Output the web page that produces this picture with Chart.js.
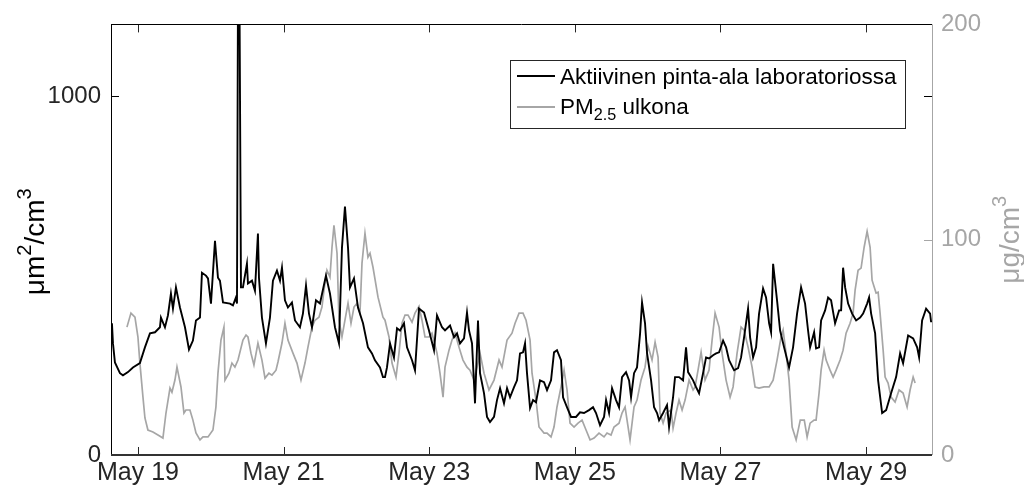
<!DOCTYPE html>
<html>
<head>
<meta charset="utf-8">
<script src="https://cdn.jsdelivr.net/npm/chart.js@4/dist/chart.umd.min.js"></script>
<style>
  html, body { margin: 0; padding: 0; background: #fff; }
  canvas { display: block; }
</style>
</head>
<body>
<canvas id="chart" width="1024" height="490"></canvas>
<script>
// --- Data (time in days of May) ---
const areaTime = [
  18.643, 18.657, 18.684, 18.753, 18.794, 18.863, 18.931, 19.027, 19.096, 19.165,
  19.234, 19.302, 19.316, 19.371, 19.412, 19.453, 19.481, 19.522, 19.577, 19.646,
  19.701, 19.755, 19.797, 19.852, 19.879, 19.934, 19.962, 20.003, 20.058, 20.099,
  20.126, 20.168, 20.264, 20.305, 20.346, 20.360, 20.374, 20.394, 20.415, 20.442,
  20.497, 20.511, 20.566, 20.607, 20.648, 20.662, 20.703, 20.758, 20.813, 20.854,
  20.909, 20.951, 20.978, 21.019, 21.060, 21.115, 21.157, 21.225, 21.266, 21.308,
  21.349, 21.390, 21.445, 21.500, 21.582, 21.637, 21.706, 21.761, 21.802, 21.843,
  21.885, 21.912, 21.967, 22.022, 22.091, 22.159, 22.214, 22.255, 22.324, 22.365,
  22.393, 22.420, 22.462, 22.516, 22.558, 22.599, 22.654, 22.695, 22.764, 22.805,
  22.860, 22.929, 22.997, 23.066, 23.107, 23.176, 23.217, 23.286, 23.341, 23.382,
  23.423, 23.478, 23.519, 23.547, 23.588, 23.629, 23.670, 23.698, 23.753, 23.794,
  23.835, 23.890, 23.931, 23.973, 24.027, 24.069, 24.110, 24.165, 24.206, 24.247,
  24.288, 24.316, 24.343, 24.385, 24.426, 24.467, 24.522, 24.577, 24.618, 24.673,
  24.714, 24.755, 24.810, 24.838, 24.893, 24.948, 25.016, 25.071, 25.126, 25.195,
  25.250, 25.291, 25.346, 25.401, 25.429, 25.470, 25.511, 25.566, 25.607, 25.648,
  25.703, 25.745, 25.772, 25.813, 25.854, 25.896, 25.923, 25.964, 25.992, 26.047,
  26.088, 26.129, 26.157, 26.212, 26.266, 26.294, 26.349, 26.376, 26.431, 26.486,
  26.527, 26.555, 26.624, 26.665, 26.706, 26.761, 26.802, 26.843, 26.898, 26.940,
  26.981, 27.036, 27.077, 27.118, 27.187, 27.242, 27.283, 27.324, 27.379, 27.407,
  27.448, 27.489, 27.530, 27.585, 27.626, 27.668, 27.695, 27.723, 27.777, 27.819,
  27.874, 27.942, 27.997, 28.052, 28.107, 28.162, 28.203, 28.231, 28.286, 28.313,
  28.354, 28.382, 28.437, 28.478, 28.519, 28.574, 28.629, 28.657, 28.684, 28.712,
  28.753, 28.808, 28.863, 28.918, 28.959, 29.014, 29.041, 29.069, 29.124, 29.165,
  29.220, 29.275, 29.343, 29.412, 29.467, 29.508, 29.577, 29.646, 29.701, 29.728,
  29.769, 29.824, 29.879, 29.893
];
const areaValues = [
  367, 311, 258, 228, 222, 231, 244, 256, 300, 339,
  342, 356, 383, 356, 389, 450, 408, 467, 411, 356,
  294, 319, 375, 383, 508, 500, 492, 422, 597, 494,
  486, 425, 422, 417, 439, 422, 1300, 1300, 467, 467,
  533, 478, 486, 458, 617, 494, 383, 311, 383, 486,
  514, 486, 522, 431, 411, 425, 375, 356, 394, 472,
  394, 356, 431, 422, 500, 450, 356, 311, 578, 692,
  578, 467, 492, 411, 367, 300, 283, 264, 244, 217,
  217, 244, 311, 272, 353, 347, 367, 300, 264, 236,
  408, 397, 347, 292, 389, 356, 347, 361, 328, 339,
  311, 325, 397, 347, 311, 144, 375, 228, 172, 106,
  92, 106, 153, 186, 144, 186, 161, 189, 208, 283,
  286, 311, 228, 131, 153, 147, 208, 203, 181, 208,
  286, 292, 264, 161, 133, 106, 106, 119, 117, 125,
  133, 117, 83, 106, 153, 117, 186, 153, 133, 217,
  231, 208, 161, 228, 244, 339, 425, 367, 283, 208,
  133, 117, 97, 117, 139, 78, 161, 217, 217, 208,
  300, 231, 208, 189, 172, 228, 272, 269, 278, 283,
  286, 319, 300, 264, 236, 242, 272, 328, 408, 328,
  272, 300, 394, 464, 439, 367, 342, 533, 431, 347,
  300, 244, 300, 394, 467, 422, 347, 300, 342, 297,
  300, 375, 403, 439, 431, 367, 403, 403, 522, 467,
  422, 394, 375, 383, 394, 422, 439, 394, 339, 208,
  117, 125, 172, 217, 283, 256, 333, 325, 300, 272,
  375, 408, 394, 370
];

const pmTime = [
  18.849, 18.904, 18.959, 19.000, 19.027, 19.069, 19.096, 19.137, 19.206, 19.275,
  19.343, 19.385, 19.440, 19.467, 19.508, 19.536, 19.591, 19.632, 19.659, 19.714,
  19.755, 19.797, 19.852, 19.893, 19.962, 20.030, 20.071, 20.099, 20.140, 20.181,
  20.195, 20.250, 20.291, 20.332, 20.374, 20.442, 20.484, 20.511, 20.552, 20.593,
  20.648, 20.703, 20.745, 20.799, 20.841, 20.896, 20.923, 20.978, 21.019, 21.060,
  21.129, 21.184, 21.239, 21.294, 21.335, 21.390, 21.431, 21.486, 21.527, 21.555,
  21.596, 21.637, 21.665, 21.692, 21.734, 21.761, 21.802, 21.843, 21.885, 21.926,
  21.967, 22.008, 22.049, 22.077, 22.118, 22.159, 22.187, 22.228, 22.297, 22.365,
  22.393, 22.448, 22.489, 22.544, 22.585, 22.626, 22.668, 22.709, 22.764, 22.805,
  22.860, 22.901, 22.942, 22.997, 23.038, 23.107, 23.148, 23.190, 23.217, 23.272,
  23.313, 23.354, 23.409, 23.464, 23.519, 23.560, 23.615, 23.657, 23.698, 23.753,
  23.821, 23.890, 23.959, 24.000, 24.069, 24.137, 24.179, 24.234, 24.288, 24.330,
  24.385, 24.412, 24.467, 24.508, 24.577, 24.618, 24.673, 24.714, 24.755, 24.810,
  24.852, 24.893, 24.934, 24.989, 25.044, 25.099, 25.154, 25.209, 25.264, 25.332,
  25.401, 25.442, 25.497, 25.538, 25.607, 25.648, 25.690, 25.717, 25.758, 25.813,
  25.854, 25.909, 25.964, 26.005, 26.060, 26.102, 26.143, 26.170, 26.212, 26.253,
  26.321, 26.349, 26.390, 26.431, 26.473, 26.514, 26.569, 26.624, 26.651, 26.692,
  26.734, 26.788, 26.843, 26.885, 26.926, 26.981, 27.022, 27.077, 27.132, 27.173,
  27.228, 27.283, 27.324, 27.379, 27.434, 27.475, 27.530, 27.599, 27.668, 27.723,
  27.777, 27.832, 27.860, 27.901, 27.942, 27.984, 28.039, 28.096, 28.151, 28.190,
  28.231, 28.286, 28.313, 28.354, 28.382, 28.423, 28.451, 28.505, 28.547, 28.588,
  28.643, 28.684, 28.725, 28.780, 28.821, 28.849, 28.890, 28.931, 28.973, 29.014,
  29.055, 29.082, 29.137, 29.165, 29.192, 29.234, 29.261, 29.302, 29.343, 29.398,
  29.453, 29.508, 29.563, 29.604, 29.646, 29.673
];
const pmValues = [
  59.4, 65.9, 64.0, 54.8, 42.7, 26.9, 17.2, 11.6, 10.7, 9.3,
  7.9, 19.5, 31.1, 29.2, 34.8, 40.8, 31.6, 19.5, 20.9, 20.9,
  16.2, 10.2, 7.0, 8.4, 8.4, 11.6, 22.3, 38.0, 53.4, 59.4,
  34.8, 38.0, 42.7, 40.8, 44.1, 53.4, 55.7, 54.8, 47.3, 41.8,
  52.0, 44.1, 35.7, 38.0, 37.1, 39.4, 43.2, 52.0, 61.2, 53.4,
  47.3, 42.7, 34.8, 42.7, 50.1, 59.4, 62.6, 64.0, 68.7, 76.6,
  85.8, 82.6, 96.5, 106.7, 93.7, 62.6, 54.8, 62.6, 70.5, 61.2,
  68.7, 70.5, 65.9, 89.1, 103.0, 91.9, 93.7, 87.2, 73.3, 64.0,
  62.6, 54.8, 42.7, 36.2, 47.3, 61.2, 65.0, 65.0, 61.7, 65.9,
  69.1, 62.6, 54.8, 54.8, 56.6, 47.3, 38.0, 26.9, 40.8, 48.7,
  53.4, 56.6, 50.1, 44.1, 40.8, 39.4, 34.8, 40.8, 47.3, 38.0,
  30.2, 34.8, 44.1, 40.8, 53.4, 56.6, 61.2, 65.9, 65.9, 62.6,
  53.4, 38.0, 25.5, 13.0, 10.2, 10.2, 8.4, 13.0, 22.3, 31.6,
  39.4, 30.2, 14.8, 13.0, 14.8, 16.2, 11.6, 7.0, 7.9, 10.2,
  8.4, 10.2, 9.3, 13.0, 14.8, 19.5, 22.3, 16.2, 7.0, 22.3,
  25.5, 34.8, 40.8, 50.6, 44.1, 52.4, 45.5, 19.5, 14.8, 19.5,
  20.9, 12.5, 19.5, 25.5, 20.9, 25.5, 34.8, 30.2, 31.6, 39.4,
  47.8, 34.8, 39.4, 53.4, 65.9, 59.4, 47.3, 34.8, 26.9, 31.6,
  47.3, 59.4, 58.0, 50.1, 40.8, 31.6, 31.1, 31.6, 31.6, 34.8,
  44.1, 54.8, 58.0, 47.3, 34.8, 13.0, 7.0, 16.2, 16.2, 8.4,
  14.8, 16.2, 16.2, 28.8, 39.4, 48.7, 44.1, 39.4, 36.2, 39.4,
  44.1, 48.7, 56.6, 61.2, 65.9, 76.6, 85.8, 86.8, 96.5, 103.9,
  96.5, 81.2, 75.2, 75.6, 65.9, 48.7, 36.2, 33.4, 26.9, 24.6,
  30.2, 28.8, 22.3, 30.2, 36.2, 33.4
];

const xTickDays = [19, 21, 23, 25, 27, 29];
const leftTicks = [0, 1000];
const rightTicks = [0, 100, 200];

// --- Styling ---
const FONT = "'Liberation Sans', Arial, Helvetica, sans-serif";
const BLACK = '#000000';
const GREY = '#a6a6a6';
const TEXT_DARK = '#262626';
const TICK = 8;

function toPoints(times, values) {
  return times.map((t, i) => ({ x: t, y: values[i] }));
}

// draws text pieces with super/subscripts, baseline at y = 0
function drawRich(ctx, parts, size, align) {
  const small = size * 0.72;
  const widths = parts.map(p => {
    ctx.font = `${p.s ? small : size}px ${FONT}`;
    return ctx.measureText(p.t).width;
  });
  const total = widths.reduce((a, b) => a + b, 0);
  let x = align === 'left' ? 0 : -total / 2;
  parts.forEach((p, i) => {
    ctx.font = `${p.s ? small : size}px ${FONT}`;
    let dy = 0;
    if (p.s === 'sup') dy = -size * 0.48;
    if (p.s === 'sub') dy = size * 0.28;
    ctx.fillText(p.t, x, dy);
    x += widths[i];
  });
}

// Frame, inner ticks, axis titles and legend (MATLAB style)
const decorPlugin = {
  id: 'decor',
  afterDatasetsDraw(chart) {
    const { ctx, chartArea: a, scales } = chart;
    const line = (x1, y1, x2, y2) => { ctx.beginPath(); ctx.moveTo(x1, y1); ctx.lineTo(x2, y2); ctx.stroke(); };
    ctx.save();

    // x ticks (top and bottom, pointing inward)
    ctx.lineWidth = 1;
    ctx.strokeStyle = TEXT_DARK;
    xTickDays.forEach(d => {
      const px = Math.round(scales.x.getPixelForValue(d)) + 0.5;
      line(px, a.bottom, px, a.bottom - TICK);
      line(px, a.top, px, a.top + TICK);
    });
    // left ticks, mirrored on right side
    ctx.strokeStyle = BLACK;
    leftTicks.forEach(v => {
      const py = Math.round(scales.y.getPixelForValue(v)) + 0.5;
      line(a.left, py, a.left + TICK, py);
      line(a.right, py, a.right - TICK, py);
    });
    // right ticks
    ctx.strokeStyle = GREY;
    rightTicks.forEach(v => {
      const py = Math.round(scales.y2.getPixelForValue(v)) + 0.5;
      line(a.right, py, a.right - TICK, py);
    });

    // box
    ctx.strokeStyle = BLACK;
    line(Math.round(a.left) + 0.5, a.top, Math.round(a.left) + 0.5, a.bottom);
    line(a.left, Math.round(a.top) + 0.5, a.right, Math.round(a.top) + 0.5);
    ctx.strokeStyle = GREY;
    line(Math.round(a.right) + 0.5, a.top, Math.round(a.right) + 0.5, a.bottom);
    ctx.strokeStyle = '#333333';
    ctx.lineWidth = 2;
    line(a.left, Math.round(a.bottom), a.right, Math.round(a.bottom));

    // axis titles
    ctx.textBaseline = 'alphabetic';
    ctx.fillStyle = BLACK;
    ctx.save();
    ctx.translate(44, (a.top + a.bottom) / 2 + 2);
    ctx.rotate(-Math.PI / 2);
    drawRich(ctx, [{ t: 'μm' }, { t: '2', s: 'sup' }, { t: '/cm' }, { t: '3', s: 'sup' }], 28);
    ctx.restore();

    ctx.fillStyle = GREY;
    ctx.save();
    ctx.translate(1019, (a.top + a.bottom) / 2);
    ctx.rotate(-Math.PI / 2);
    drawRich(ctx, [{ t: 'μg/cm' }, { t: '3', s: 'sup' }], 28);
    ctx.restore();

    // legend
    const lx = 510, ly = 60, lw = 395, lh = 68;
    ctx.fillStyle = '#ffffff';
    ctx.fillRect(lx, ly, lw, lh);
    ctx.lineWidth = 1;
    ctx.strokeStyle = TEXT_DARK;
    ctx.strokeRect(lx + 0.5, ly + 0.5, lw, lh);
    ctx.lineWidth = 1.8;
    ctx.strokeStyle = BLACK;
    line(517, 76, 555, 76);
    ctx.strokeStyle = GREY;
    line(517, 107, 555, 107);
    ctx.fillStyle = BLACK;
    ctx.save();
    ctx.translate(560, 84);
    drawRich(ctx, [{ t: 'Aktiivinen pinta-ala laboratoriossa' }], 22.5, 'left');
    ctx.restore();
    ctx.save();
    ctx.translate(560, 114);
    drawRich(ctx, [{ t: 'PM' }, { t: '2.5', s: 'sub' }, { t: ' ulkona' }], 22.5, 'left');
    ctx.restore();

    ctx.restore();
  }
};

new Chart(document.getElementById('chart'), {
  type: 'line',
  data: {
    datasets: [
      {
        label: 'Aktiivinen pinta-ala laboratoriossa',
        data: toPoints(areaTime, areaValues),
        yAxisID: 'y',
        borderColor: BLACK,
        borderWidth: 1.9,
        clip: 0,
        order: 0
      },
      {
        label: 'PM2.5 ulkona',
        data: toPoints(pmTime, pmValues),
        yAxisID: 'y2',
        borderColor: GREY,
        borderWidth: 1.7,
        clip: 0,
        order: 1
      }
    ]
  },
  options: {
    responsive: false,
    animation: false,
    devicePixelRatio: 1,
    parsing: false,
    layout: { padding: { top: 24, left: 0, right: 0, bottom: 0 } },
    elements: { point: { radius: 0 }, line: { tension: 0 } },
    plugins: { legend: { display: false }, tooltip: { enabled: false } },
    scales: {
      x: {
        type: 'linear',
        min: 18.63,
        max: 29.905,
        grid: { display: false, drawTicks: false },
        border: { display: false },
        afterBuildTicks: s => { s.ticks = xTickDays.map(v => ({ value: v })); },
        afterFit: s => { s.height = 35; },
        ticks: {
          autoSkip: false,
          maxRotation: 0,
          padding: 3,
          color: TEXT_DARK,
          font: { family: FONT, size: 25 },
          callback: v => 'May ' + v
        }
      },
      y: {
        position: 'left',
        min: 0,
        max: 1200,
        grid: { display: false, drawTicks: false },
        border: { display: false },
        afterBuildTicks: s => { s.ticks = leftTicks.map(v => ({ value: v })); },
        afterFit: s => { s.width = 111; },
        ticks: { padding: 10, color: TEXT_DARK, font: { family: FONT, size: 24 }, callback: v => String(v) }
      },
      y2: {
        position: 'right',
        min: 0,
        max: 200,
        grid: { display: false, drawTicks: false },
        border: { display: false },
        afterBuildTicks: s => { s.ticks = rightTicks.map(v => ({ value: v })); },
        afterFit: s => { s.width = 92; },
        ticks: { padding: 9, color: GREY, font: { family: FONT, size: 24 }, callback: v => String(v) }
      }
    }
  },
  plugins: [decorPlugin]
});
</script>
</body>
</html>
